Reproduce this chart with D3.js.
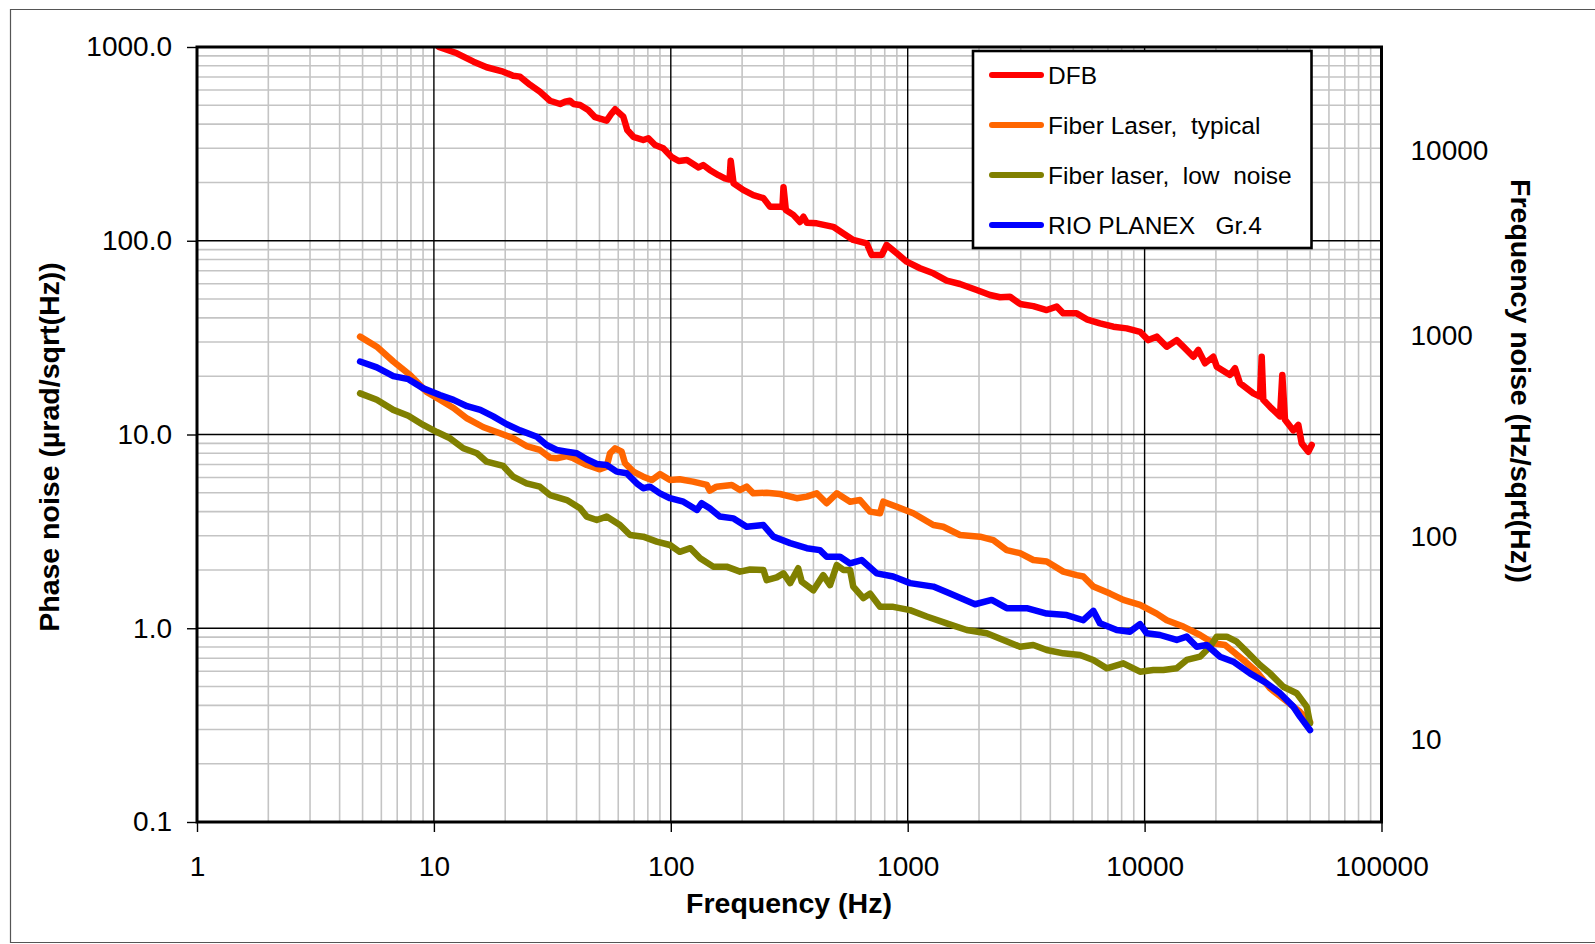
<!DOCTYPE html>
<html>
<head>
<meta charset="utf-8">
<script src="https://cdn.jsdelivr.net/npm/d3@7"></script>
<style>
  html, body { margin: 0; padding: 0; background: #fff; }
  svg { display: block; font-family: "Liberation Sans", Arial, sans-serif; }
  text { white-space: pre; }
</style>
</head>
<body>
<svg id="chart" width="1595" height="944"></svg>
<script>
// Spectral noise of several lasers: [frequency (Hz), phase noise (µrad/sqrt(Hz))]
const dfb = [
  [10.5,1000],[12.5,928],[14.7,840],[16.7,786],[19.6,746],[21.6,711],[23.1,703],[25.5,637],[28.0,588],
  [30.9,528],[34.1,508],[35.8,522],[37.5,528],[38.8,508],[41.4,502],[44.8,473],[47.9,434],[53.6,417],
  [56.3,455],[58.2,477],[63.0,437],[65.5,373],[69.5,344],[76.5,331],[80.4,338],[85.8,312],[92.9,300],
  [101,270],[108,258],[117,261],[131,239],[137,246],[146,232],[159,218],[169,210],[177,207],[179,259],
  [184,198],[202,183],[223,172],[246,166],[262,150],[289,150],[296,149],[299,189],[306,144],[329,136],
  [351,125],[363,133],[375,124],[413,123],[485,118],[535,109],[589,101],[671,97.0],[705,84.4],[777,84.4],
  [815,95.1],[899,86.1],[990,78.0],[1127,72.1],[1283,67.9],[1461,62.2],[1663,59.8],[1956,55.7],[2226,52.5],
  [2453,51.1],[2703,51.4],[2979,47.2],[3390,46.0],[3862,43.9],[4256,45.7],[4538,42.2],[5168,42.2],
  [5696,39.3],[6482,37.5],[7379,36.0],[8404,35.3],[9564,33.9],[10370,30.7],[11250,32.0],[12400,28.4],
  [13660,30.7],[14570,28.4],[16060,25.2],[16850,27.3],[17990,23.3],[19500,25.2],[20160,22.4],[22940,20.3],
  [24080,22.0],[25270,18.4],[28770,16.3],[30700,15.7],[31210,25.2],[31700,15.1],[33830,13.9],[37290,12.4],
  [38130,20.3],[39150,11.9],[42440,10.5],[44550,11.2],[46050,9.0],[49100,8.15],[50750,8.83]
];

const fiberTypical = [
  [4.88,32.0],[5.74,28.4],[6.74,23.8],[7.93,20.3],[9.32,16.6],[10.6,15.1],[12.1,13.7],[13.8,12.1],
  [16.2,10.9],[18.4,10.3],[21.6,9.56],[24.6,8.72],[28.0,8.32],[30.9,7.59],[33.0,7.54],[36.4,7.74],
  [38.8,7.54],[44.2,6.96],[50.2,6.61],[53.6,6.82],[55.4,8.00],[58.2,8.49],[62.0,8.15],[64.1,7.10],
  [69.5,6.43],[76.5,6.06],[83.1,5.82],[90.0,6.25],[99.2,5.82],[109,5.87],[124,5.71],[142,5.49],
  [146,5.13],[156,5.38],[181,5.49],[196,5.17],[209,5.38],[223,4.97],[254,5.01],[289,4.93],[340,4.69],
  [375,4.78],[413,4.97],[455,4.42],[502,4.97],[571,4.50],[629,4.59],[693,4.00],[764,3.92],[789,4.50],
  [899,4.24],[1056,3.92],[1283,3.41],[1413,3.34],[1663,3.03],[2020,2.97],[2298,2.85],[2618,2.53],
  [2979,2.44],[3390,2.25],[3862,2.21],[4538,1.96],[5168,1.88],[5512,1.85],[6075,1.64],[7145,1.51],
  [8133,1.40],[9564,1.32],[11250,1.19],[12400,1.10],[14570,1.02],[17140,0.923],[19500,0.836],
  [21850,0.820],[23690,0.757],[26110,0.686],[29740,0.597],[33830,0.490],[39150,0.426],[45290,0.370],
  [49920,0.328]
];

const fiberLowNoise = [
  [4.88,16.3],[5.74,15.1],[6.74,13.4],[7.80,12.5],[9.02,11.2],[10.3,10.3],[11.7,9.56],[13.3,8.49],
  [15.2,8.00],[16.7,7.24],[19.6,6.88],[21.6,6.06],[24.6,5.60],[28.0,5.38],[30.9,4.87],[36.4,4.59],
  [41.4,4.16],[44.2,3.77],[48.7,3.62],[53.6,3.77],[61.0,3.41],[67.3,3.03],[76.5,2.97],[87.2,2.80],
  [99.2,2.69],[109,2.48],[121,2.59],[133,2.30],[151,2.08],[172,2.08],[196,1.96],[216,2.01],[246,2.00],
  [254,1.77],[280,1.83],[299,1.92],[319,1.71],[345,2.04],[357,1.74],[400,1.57],[440,1.88],[470,1.67],
  [502,2.12],[535,2.00],[571,2.00],[589,1.64],[650,1.43],[693,1.51],[764,1.29],[869,1.29],[1023,1.24],
  [1203,1.15],[1461,1.06],[1775,0.979],[2156,0.942],[2533,0.870],[2979,0.803],[3390,0.820],[3862,0.772],
  [4538,0.742],[5338,0.728],[6075,0.686],[6918,0.621],[8133,0.659],[9564,0.597],[10890,0.609],
  [12000,0.609],[13660,0.621],[15060,0.686],[17140,0.713],[18890,0.803],[20160,0.905],[22220,0.905],
  [24480,0.852],[26980,0.757],[30700,0.646],[33830,0.585],[38500,0.499],[43860,0.462],[48340,0.394],
  [49920,0.323]
];

const rioPlanex = [
  [4.88,23.8],[5.74,22.2],[6.74,20.0],[7.80,19.3],[9.02,17.3],[10.6,16.0],[12.1,15.1],[13.8,14.0],
  [15.7,13.4],[17.8,12.4],[20.3,11.3],[23.1,10.5],[27.2,9.74],[29.9,8.83],[33.0,8.32],[36.4,8.15],
  [40.1,8.00],[44.2,7.45],[48.7,7.04],[53.6,6.96],[59.1,6.43],[65.1,6.31],[71.8,5.60],[76.5,5.28],
  [81.7,5.38],[90.0,4.97],[99.2,4.69],[113,4.50],[129,4.08],[135,4.42],[146,4.16],[161,3.77],[184,3.69],
  [209,3.34],[246,3.41],[271,2.97],[319,2.75],[375,2.59],[426,2.53],[455,2.34],[518,2.34],[571,2.16],
  [639,2.25],[740,1.92],[869,1.85],[1023,1.71],[1283,1.64],[1509,1.51],[1924,1.33],[2263,1.40],
  [2618,1.27],[3180,1.27],[3862,1.19],[4690,1.17],[5512,1.10],[6075,1.23],[6482,1.06],[7625,0.979],
  [8677,0.960],[9564,1.05],[10210,0.942],[11610,0.923],[13660,0.870],[15060,0.905],[16600,0.803],
  [18290,0.820],[20810,0.713],[23690,0.672],[27860,0.585],[32770,0.520],[37290,0.462],[42440,0.394],
  [45290,0.350],[49920,0.298]
];

const seriesNames  = ["DFB", "Fiber Laser,  typical", "Fiber laser,  low  noise", "RIO PLANEX   Gr.4"];
const seriesColors = ["#ff0000", "#ff6600", "#808000", "#0000ff"];
const seriesData   = [dfb, fiberTypical, fiberLowNoise, rioPlanex];

const xTicks      = [1, 10, 100, 1000, 10000, 100000];
const yTicks      = [0.1, 1, 10, 100, 1000];
const yRightTicks = [10, 100, 1000, 10000];

const xTitle      = "Frequency (Hz)";
const yTitle      = "Phase noise (\u00b5rad/sqrt(Hz))";
const yRightTitle = "Frequency noise (Hz/sqrt(Hz))";

// ---- layout ----
const plot = { left: 197, right: 1381.5, top: 47, bottom: 822 };

const svg = d3.select("#chart");

const x = d3.scaleLog().domain([1, 100000]).range([plot.left, plot.right]);
const y = d3.scaleLog().domain([0.1, 1000]).range([plot.bottom, plot.top]);
// secondary axis (labels only), spaced as on the printed sheet
const yR = d3.scaleLog().domain([10, 100, 1000, 10000]).range([739.5, 537, 335.7, 150.5]);

// outer chart frame (open to the right edge)
svg.append("path")
  .attr("d", "M1600,9.5 H10.5 V942.5 H1600")
  .attr("fill", "none").attr("stroke", "#555").attr("stroke-width", 1.2);

// ---- grid ----
const grid = svg.append("g");
const minorX = [], minorY = [];
for (let d = 1; d < 100000; d *= 10) for (let k = 2; k <= 9; k++) minorX.push(k * d);
for (let d = 0.1; d < 999; d *= 10) for (let k = 2; k <= 9; k++) minorY.push(+(k * d).toPrecision(3));

grid.selectAll("line.mx").data(minorX).join("line")
  .attr("x1", d => x(d)).attr("x2", d => x(d))
  .attr("y1", plot.top).attr("y2", plot.bottom)
  .attr("stroke", "#c4c4c4").attr("stroke-width", 1.6);
grid.selectAll("line.my").data(minorY).join("line")
  .attr("x1", plot.left).attr("x2", plot.right)
  .attr("y1", d => y(d)).attr("y2", d => y(d))
  .attr("stroke", "#c4c4c4").attr("stroke-width", 1.6);
grid.selectAll("line.Mx").data(xTicks.slice(1, -1)).join("line")
  .attr("x1", d => x(d)).attr("x2", d => x(d))
  .attr("y1", plot.top).attr("y2", plot.bottom)
  .attr("stroke", "#000").attr("stroke-width", 1.4);
grid.selectAll("line.My").data(yTicks.slice(1, -1)).join("line")
  .attr("x1", plot.left).attr("x2", plot.right)
  .attr("y1", d => y(d)).attr("y2", d => y(d))
  .attr("stroke", "#000").attr("stroke-width", 1.4);

// ---- curves ----
svg.append("clipPath").attr("id", "plotClip")
  .append("rect")
  .attr("x", plot.left).attr("y", plot.top)
  .attr("width", plot.right - plot.left).attr("height", plot.bottom - plot.top);

const line = d3.line().x(d => x(d[0])).y(d => y(d[1]));
svg.append("g").attr("clip-path", "url(#plotClip)")
  .selectAll("path").data(seriesData).join("path")
  .attr("d", line)
  .attr("fill", "none")
  .attr("stroke", (d, i) => seriesColors[i])
  .attr("stroke-width", 6.5)
  .attr("stroke-linejoin", "round")
  .attr("stroke-linecap", "round");

// plot frame
svg.append("rect")
  .attr("x", plot.left).attr("y", plot.top)
  .attr("width", plot.right - plot.left).attr("height", plot.bottom - plot.top)
  .attr("fill", "none").attr("stroke", "#000").attr("stroke-width", 3);

// ---- axes ----
const styleAxis = g => {
  g.select(".domain").remove();
  g.selectAll(".tick line").attr("stroke", "#000").attr("stroke-width", 1.4);
  g.selectAll(".tick text").attr("fill", "#000")
    .style("font-size", "28px").style("font-family", "'Liberation Sans', Arial, sans-serif");
};

svg.append("g")
  .attr("transform", `translate(${plot.left},0)`)
  .call(d3.axisLeft(y).tickValues(yTicks).tickFormat(d3.format(".1f")).tickSize(10).tickPadding(15))
  .call(styleAxis);

svg.append("g")
  .attr("transform", `translate(0,${plot.bottom})`)
  .call(d3.axisBottom(x).tickValues(xTicks).tickFormat(d3.format("d")).tickSize(10).tickPadding(24))
  .call(styleAxis);

svg.append("g")
  .attr("transform", `translate(${plot.right},0)`)
  .call(d3.axisRight(yR).tickValues(yRightTicks).tickFormat(d3.format("d")).tickSize(0).tickPadding(29))
  .call(styleAxis)
  .call(g => g.selectAll(".tick line").remove());

// ---- titles ----
const titleFont = g => g.attr("font-weight", "bold").attr("font-size", 28.5).attr("fill", "#000")
  .attr("text-anchor", "middle").attr("dominant-baseline", "central");

svg.append("text").attr("x", 789).attr("y", 903).text(xTitle).call(titleFont);
svg.append("text").attr("transform", "translate(49,447) rotate(-90)").text(yTitle).call(titleFont);
svg.append("text").attr("transform", "translate(1521,381) rotate(90)").text(yRightTitle).call(titleFont);

// ---- legend ----
const legend = svg.append("g");
legend.append("rect")
  .attr("x", 973).attr("y", 51).attr("width", 338.5).attr("height", 197)
  .attr("fill", "#fff").attr("stroke", "#000").attr("stroke-width", 2.6);

const rowY = i => 75 + i * 50;
const items = legend.selectAll("g.item").data(seriesNames).join("g");
items.append("line")
  .attr("x1", 992).attr("x2", 1041)
  .attr("y1", (d, i) => rowY(i)).attr("y2", (d, i) => rowY(i))
  .attr("stroke", (d, i) => seriesColors[i])
  .attr("stroke-width", 6).attr("stroke-linecap", "round");
items.append("text")
  .attr("x", 1048).attr("y", (d, i) => rowY(i))
  .attr("dominant-baseline", "central")
  .attr("font-size", 24.5).attr("fill", "#000")
  .text(d => d);
</script>
</body>
</html>
